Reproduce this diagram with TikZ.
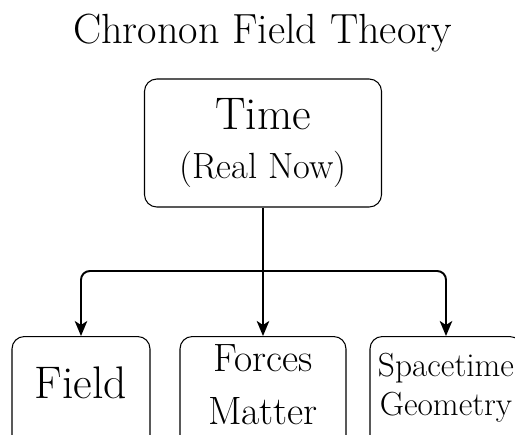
\documentclass[tikz,border=0pt]{standalone}
\usepackage{fontspec}
\usepackage{tikz}
\usetikzlibrary{positioning, calc, arrows.meta}

\tikzset{
  box/.style={draw, semithick, rounded corners=7pt, align=center, inner sep=2pt},
  leaf/.style={box, anchor=north, minimum height=2.3cm},
  link/.style={->, line width=1.1pt},
}

\begin{document}
\begin{tikzpicture}[>={Stealth[length=3mm, width=2.5mm, inset=0.8mm]}]
    \useasboundingbox (0,0) rectangle (10.3,-8.68);

    % Title
    \node[anchor=base] (title) at (5.25,-0.86) {\fontsize{24}{28}\selectfont Chronon Field Theory};

    % Time Box
    \node[box, minimum width=4.74cm, minimum height=2.56cm, font=\fontsize{26}{28}\selectfont] (time) at (5.26,-2.86)
      {Time\\ \fontsize{20.75}{28}\selectfont (Real Now)};

    % Lower Boxes
    \node[leaf, minimum width=2.76cm, text depth=0.45cm, font=\fontsize{26}{28}\selectfont] (field) at (1.62,-6.72)
      {Field};
    \node[leaf, minimum width=3.32cm, text depth=0.38cm, font=\fontsize{22.5}{30.5}\selectfont] (forces) at (5.26,-6.72)
      {Forces\\ Matter};
    \node[leaf, minimum width=3.04cm, text depth=0.38cm, font=\fontsize{19}{22}\selectfont] (geom) at (8.92,-6.72)
      {Spacetime\\ Geometry};

    \coordinate (bus) at (5.26,-5.42);

    \draw[link] (time.south) -- (forces.north);
    \draw[link, rounded corners=5pt] (bus) -| (field.north);
    \draw[link, rounded corners=5pt] (bus) -| (geom.north);
\end{tikzpicture}
\end{document}
